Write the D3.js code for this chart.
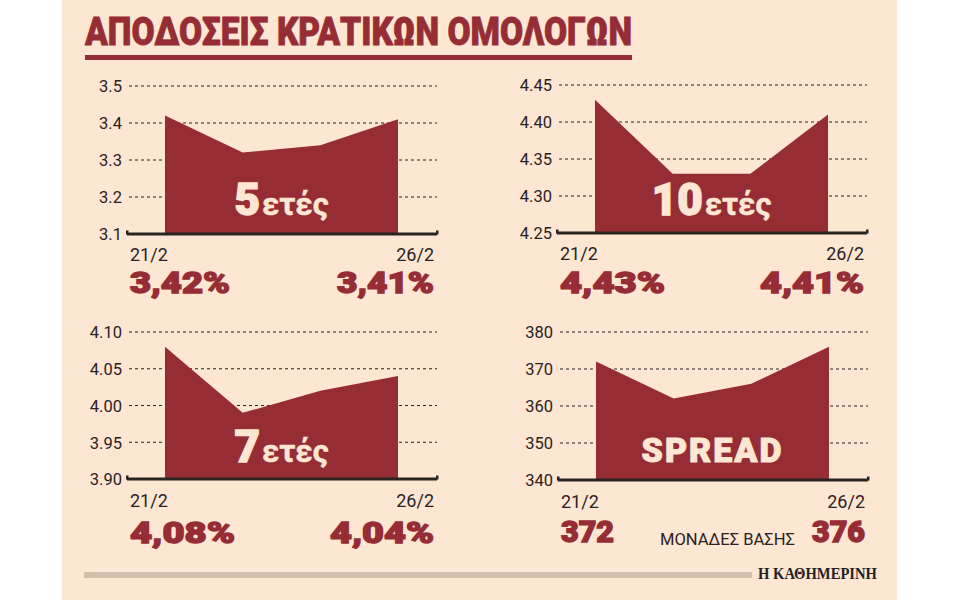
<!DOCTYPE html>
<html>
<head>
<meta charset="utf-8">
<script src="https://cdn.jsdelivr.net/npm/d3@7"></script>
<style>
  html, body { margin: 0; padding: 0; background: #ffffff; }
  svg { display: block; }
</style>
</head>
<body>
<svg id="chart" width="960" height="600"></svg>
<script>
// ---- data ----
const title = "ΑΠΟΔΟΣΕΙΣ ΚΡΑΤΙΚΩΝ ΟΜΟΛΟΓΩΝ";
const dates = ["21/2", "22/2", "25/2", "26/2"];
const yield5 = [3.42, 3.32, 3.34, 3.41];
const yield10 = [4.43, 4.33, 4.33, 4.41];
const yield7 = [4.08, 3.99, 4.02, 4.04];
const spread = [372, 362, 366, 376];
const ticks5 = [3.1, 3.2, 3.3, 3.4, 3.5];
const ticks10 = [4.25, 4.30, 4.35, 4.40, 4.45];
const ticks7 = [3.90, 3.95, 4.00, 4.05, 4.10];
const ticksSpread = [340, 350, 360, 370, 380];
const startLabels = ["3,42%", "4,43%", "4,08%", "372"];
const endLabels = ["3,41%", "4,41%", "4,04%", "376"];
const panelNumbers = ["5", "10", "7", ""];
const panelWords = ["ετές", "ετές", "ετές", "SPREAD"];
const unitNote = "ΜΟΝΑΔΕΣ ΒΑΣΗΣ";
const source = "Η ΚΑΘΗΜΕΡΙΝΗ";

// ---- style ----
const MAROON = "#962d35";
const BG = "#fde6d2";
const CREAM = "#fde6d2";
const INK = "#2b2222";

const svg = d3.select("#chart");

// background panel
svg.append("rect").attr("x", 62).attr("y", 0).attr("width", 835).attr("height", 600).attr("fill", BG);

// title
svg.append("text")
  .attr("x", 85).attr("y", 45)
  .attr("font-family", "Roboto, 'DejaVu Sans', sans-serif")
  .attr("font-weight", 900)
  .attr("font-size", 38)
  .attr("fill", MAROON)
  .attr("stroke", MAROON).attr("stroke-width", 0.8)
  .attr("textLength", 547)
  .attr("lengthAdjust", "spacingAndGlyphs")
  .text(title);
svg.append("rect").attr("x", 85).attr("y", 55).attr("width", 547).attr("height", 5).attr("fill", MAROON);

// footer
svg.append("rect").attr("x", 84).attr("y", 572).attr("width", 668).attr("height", 6).attr("fill", "#d3bfad");
svg.append("text")
  .attr("x", 758).attr("y", 579)
  .attr("font-family", "'Liberation Serif', 'DejaVu Serif', serif")
  .attr("font-weight", 700)
  .attr("font-size", 17)
  .attr("fill", "#222")
  .attr("textLength", 119)
  .attr("lengthAdjust", "spacingAndGlyphs")
  .text(source);

const panels = [
  { values: yield5, ticks: ticks5, gx: 127, yTop: 86, yBot: 234, fmt: d3.format(".1f"), dateDy: 27, valDy: 59, labDy: -19, startW: 100, endW: 97 },
  { values: yield10, ticks: ticks10, gx: 557, yTop: 85, yBot: 233, fmt: d3.format(".2f"), dateDy: 27, valDy: 60, labDy: -18, startW: 105, endW: 104 },
  { values: yield7, ticks: ticks7, gx: 127, yTop: 332, yBot: 479, fmt: d3.format(".2f"), dateDy: 28, valDy: 64, labDy: -17, startW: 105, endW: 104 },
  { values: spread, ticks: ticksSpread, gx: 558, yTop: 332, yBot: 480, fmt: d3.format("d"), dateDy: 28, valDy: 62, labDy: -18, startW: 53, endW: 53 }
];

const W = 310, inL = 38, inR = 39;

panels.forEach((p, i) => {
  const g = svg.append("g");
  const x = d3.scalePoint().domain(dates).range([p.gx + inL, p.gx + W - inR]);
  const y = d3.scaleLinear().domain([p.ticks[0], p.ticks[p.ticks.length - 1]]).range([p.yBot, p.yTop]);

  // gridlines
  g.selectAll("line.grid").data(p.ticks.slice(1)).join("line")
    .attr("x1", p.gx + 2).attr("x2", p.gx + W)
    .attr("y1", d => y(d)).attr("y2", d => y(d))
    .attr("stroke", INK).attr("stroke-width", 1).attr("stroke-dasharray", "3,3");

  // y axis labels
  const axis = d3.axisLeft(y).tickValues(p.ticks).tickFormat(p.fmt).tickSize(0).tickPadding(5);
  const ag = g.append("g").attr("transform", `translate(${p.gx},0)`).call(axis);
  ag.select(".domain").remove();
  ag.selectAll("text")
    .attr("font-family", "Roboto, 'DejaVu Sans', sans-serif")
    .attr("font-size", 16.5)
    .attr("fill", INK)
    .attr("dy", "0.35em");

  // area
  const area = d3.area()
    .x((d, j) => x(dates[j]))
    .y0(y(p.ticks[0]))
    .y1(d => y(d));
  g.append("path").datum(p.values).attr("d", area).attr("fill", MAROON);

  // baseline
  g.append("line")
    .attr("x1", p.gx).attr("x2", p.gx + W)
    .attr("y1", p.yBot).attr("y2", p.yBot)
    .attr("stroke", INK).attr("stroke-width", 3);
  [p.gx, p.gx + W].forEach(ex => {
    g.append("rect").attr("x", ex - 1).attr("y", p.yBot - 3.5).attr("width", 2.5).attr("height", 4).attr("fill", INK);
  });

  // date labels
  const fontTxt = "Roboto, 'DejaVu Sans', sans-serif";
  g.append("text").attr("x", p.gx + 3).attr("y", p.yBot + p.dateDy)
    .attr("font-family", fontTxt).attr("font-size", 18).attr("fill", INK)
    .text(dates[0]);
  g.append("text").attr("x", p.gx + W - 3).attr("y", p.yBot + p.dateDy)
    .attr("text-anchor", "end")
    .attr("font-family", fontTxt).attr("font-size", 18).attr("fill", INK)
    .text(dates[dates.length - 1]);

  // big values
  g.append("text").attr("x", p.gx + 3).attr("y", p.yBot + p.valDy)
    .attr("font-family", fontTxt).attr("font-weight", 900).attr("font-size", 30).attr("fill", MAROON)
    .attr("stroke", MAROON).attr("stroke-width", 1.4)
    .attr("textLength", p.startW).attr("lengthAdjust", "spacingAndGlyphs")
    .text(startLabels[i]);
  g.append("text").attr("x", p.gx + W - 3 - p.endW).attr("y", p.yBot + p.valDy)
    .attr("font-family", fontTxt).attr("font-weight", 900).attr("font-size", 30).attr("fill", MAROON)
    .attr("stroke", MAROON).attr("stroke-width", 1.4)
    .attr("textLength", p.endW).attr("lengthAdjust", "spacingAndGlyphs")
    .text(endLabels[i]);

  // center label
  const cx = (x(dates[0]) + x(dates[dates.length - 1])) / 2;
  const t = g.append("text").attr("x", cx).attr("y", p.yBot + p.labDy)
    .attr("text-anchor", "middle")
    .attr("font-family", fontTxt).attr("fill", CREAM).attr("font-weight", 900)
    .attr("stroke", CREAM);
  if (panelNumbers[i]) {
    t.append("tspan").attr("font-size", 44).attr("stroke-width", 1.4).text(panelNumbers[i]);
    t.append("tspan").attr("font-size", 31).attr("font-weight", 700).attr("stroke-width", 0.5).attr("dx", 2).text(panelWords[i]);
  } else {
    t.attr("font-size", 34).attr("stroke-width", 1).attr("letter-spacing", 2).text(panelWords[i]);
  }
});

// unit note
svg.append("text").attr("x", 660).attr("y", 545)
  .attr("font-family", "Roboto, 'DejaVu Sans', sans-serif")
  .attr("font-size", 16).attr("fill", INK)
  .attr("textLength", 135).attr("lengthAdjust", "spacingAndGlyphs")
  .text(unitNote);
</script>
</body>
</html>
